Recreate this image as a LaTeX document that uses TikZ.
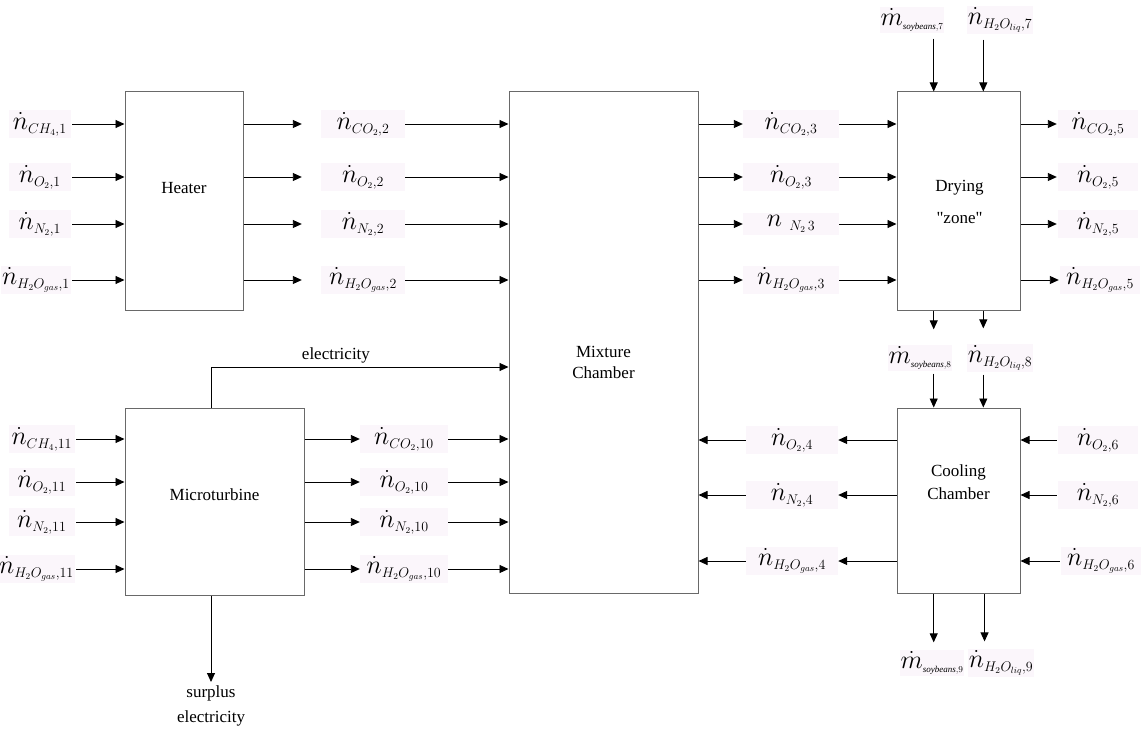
\RequirePackage{fix-cm}
\documentclass[tikz,border=0pt]{standalone}
\usepackage{fontspec}
\setmainfont{Liberation Serif}[Ligatures=TeXOff]
\usetikzlibrary{arrows.meta,calc}
\DeclareMathSizes{26}{26}{14}{9}

\definecolor{tagbg}{RGB}{251,246,251}
\definecolor{boxline}{RGB}{105,105,105}

\tikzset{
  unit/.style={draw=boxline, line width=1pt, fill=white, inner sep=0pt},
  flow/.style={draw=black, line width=0.9pt, -{Triangle[length=9pt,width=8pt]}},
  tag/.style={fill=tagbg, inner xsep=1pt, inner ysep=2pt, font=\fontsize{26}{30}\selectfont},
  plain/.style={font=\fontsize{17}{21}\selectfont, align=center},
}

\begin{document}
\begin{tikzpicture}[x=1pt, y=-1pt]
\useasboundingbox (0,0) rectangle (1145,738);

% process units
\node[unit, minimum width=118pt, minimum height=218pt] (heater)  at (184,201) {};
\node[unit, minimum width=189pt, minimum height=501pt] (mixer)   at (603.5,342.5) {};
\node[unit, minimum width=123pt, minimum height=218pt] (drying)  at (958.5,201) {};
\node[unit, minimum width=123pt, minimum height=185pt] (cooling) at (958.5,500.5) {};
\node[unit, minimum width=179pt, minimum height=187pt] (micro)   at (214.5,501.5) {};

\node[plain] (heatertxt) at (184,188) {Heater};
\node[plain, font=\fontsize{17}{21}\selectfont] (mixertxt) at (603.5,362) {Mixture\\Chamber};
\node[plain, font=\fontsize{17}{32}\selectfont] (dryingtxt) at (959.5,202) {Drying\\"zone"};
\node[plain, font=\fontsize{17}{23}\selectfont] (coolingtxt) at (958.5,482) {Cooling\\Chamber};
\node[plain] (microtxt) at (214.5,495) {Microturbine};

% heater feed
\node[tag, anchor=east, minimum width=62pt] (f1a) at (71,124) {$\dot n_{CH_4,1}$};
\node[tag, anchor=east, minimum width=62pt] (f1b) at (71,177) {$\dot n_{O_2,1}$};
\node[tag, anchor=east, minimum width=62pt] (f1c) at (71,224) {$\dot n_{N_2,1}$};
\node[tag, anchor=east, minimum width=62pt] (f1d) at (71,280) {$\dot n_{H_2O_{gas},1}$};
\foreach \t in {f1a,f1b,f1c,f1d}
  \draw[flow] ([xshift=1pt]\t.east) -- (\t.east -| heater.west);

% heater exhaust into the mixture chamber
\node[tag, minimum width=84pt] (f2a) at (363,124) {$\dot n_{CO_2,2}$};
\node[tag, minimum width=84pt] (f2b) at (363,177) {$\dot n_{O_2,2}$};
\node[tag, minimum width=84pt] (f2c) at (363,224) {$\dot n_{N_2,2}$};
\node[tag, minimum width=84pt] (f2d) at (363,280) {$\dot n_{H_2O_{gas},2}$};
\foreach \t in {f2a,f2b,f2c,f2d}{
  \draw[flow] (heater.east |- \t) -- ([xshift=-19pt]\t.west);
  \draw[flow] (\t.east) -- (\t.east -| mixer.west);
}

% mixture chamber to drying zone
\node[tag, minimum width=96pt] (f3a) at (791,124) {$\dot n_{CO_2,3}$};
\node[tag, minimum width=96pt] (f3b) at (791,177) {$\dot n_{O_2,3}$};
\node[tag, minimum width=96pt] (f3c) at (791,224) {$n\;{}_{N_2\,3}$};
\node[tag, minimum width=96pt] (f3d) at (791,280) {$\dot n_{H_2O_{gas},3}$};
\foreach \t in {f3a,f3b,f3c,f3d}{
  \draw[flow] (mixer.east |- \t) -- (\t.west);
  \draw[flow] (\t.east) -- (\t.east -| drying.west);
}

% drying zone exhaust
\node[tag, minimum width=80pt] (f5a) at (1098,124) {$\dot n_{CO_2,5}$};
\node[tag, minimum width=80pt] (f5b) at (1098,177) {$\dot n_{O_2,5}$};
\node[tag, minimum width=80pt] (f5c) at (1098,224) {$\dot n_{N_2,5}$};
\node[tag, minimum width=80pt] (f5d) at (1100,280) {$\dot n_{H_2O_{gas},5}$};
\foreach \t in {f5a,f5b,f5c,f5d}
  \draw[flow] (drying.east |- \t) -- ([xshift=-1pt]\t.west);

% soybean and water streams
\coordinate (dtopA) at ($(drying.north west)!0.3!(drying.north east)$);
\coordinate (dtopB) at ($(drying.north west)!0.7!(drying.north east)$);
\coordinate (dbotA) at ($(drying.south west)!0.3!(drying.south east)$);
\coordinate (dbotB) at ($(drying.south west)!0.7!(drying.south east)$);
\coordinate (ctopA) at ($(cooling.north west)!0.3!(cooling.north east)$);
\coordinate (ctopB) at ($(cooling.north west)!0.7!(cooling.north east)$);
\coordinate (cbotA) at ($(cooling.south west)!0.3!(cooling.south east)$);
\coordinate (cbotB) at ($(cooling.south west)!0.71!(cooling.south east)$);

\node[tag] (s7) at (912,20)  {$\dot m_{\scriptscriptstyle\mathit{soybeans},7}$};
\node[tag] (w7) at (1000,20) {$\dot n_{H_2O_{liq},7}$};
\draw[flow, shorten <=5pt] (s7.south -| dtopA) -- (dtopA);
\draw[flow, shorten <=5pt] (w7.south -| dtopB) -- (dtopB);

\node[tag] (s8) at (920,358)  {$\dot m_{\scriptscriptstyle\mathit{soybeans},8}$};
\node[tag] (w8) at (1000,358) {$\dot n_{H_2O_{liq},8}$};
\draw[flow, shorten >=15pt] (dbotA) -- (s8.north -| dbotA);
\draw[flow, shorten >=15pt] (dbotB) -- (w8.north -| dbotB);
\draw[flow, shorten <=2pt] (s8.south -| ctopA) -- (ctopA);
\draw[flow, shorten <=2pt] (w8.south -| ctopB) -- (ctopB);

\node[tag] (s9) at (932,663)  {$\dot m_{\scriptscriptstyle\mathit{soybeans},9}$};
\node[tag] (w9) at (1001,663) {$\dot n_{H_2O_{liq},9}$};
\draw[flow, shorten >=7pt] (cbotA) -- (s9.north -| cbotA);
\draw[flow, shorten >=7pt] (cbotB) -- (w9.north -| cbotB);

% cooling chamber air
\node[tag, minimum width=92pt] (f4a) at (792,440) {$\dot n_{O_2,4}$};
\node[tag, minimum width=92pt] (f4b) at (792,495) {$\dot n_{N_2,4}$};
\node[tag, minimum width=92pt] (f4c) at (792,561) {$\dot n_{H_2O_{gas},4}$};
\foreach \t in {f4a,f4b,f4c}{
  \draw[flow] (cooling.west |- \t) -- (\t.east);
  \draw[flow] (\t.west) -- (\t.west -| mixer.east);
}
\node[tag, minimum width=80pt] (f6a) at (1098,440) {$\dot n_{O_2,6}$};
\node[tag, minimum width=80pt] (f6b) at (1098,495) {$\dot n_{N_2,6}$};
\node[tag, minimum width=80pt] (f6c) at (1101,561) {$\dot n_{H_2O_{gas},6}$};
\foreach \t in {f6a,f6b,f6c}
  \draw[flow] ([xshift=-1pt]\t.west) -- (\t.west -| cooling.east);

% microturbine
\node[tag, anchor=east, minimum width=66pt] (f11a) at (75,439) {$\dot n_{CH_4,11}$};
\node[tag, anchor=east, minimum width=66pt] (f11b) at (75,482) {$\dot n_{O_2,11}$};
\node[tag, anchor=east, minimum width=66pt] (f11c) at (75,522) {$\dot n_{N_2,11}$};
\node[tag, anchor=east, minimum width=66pt] (f11d) at (75,569) {$\dot n_{H_2O_{gas},11}$};
\foreach \t in {f11a,f11b,f11c,f11d}
  \draw[flow] ([xshift=1pt]\t.east) -- (\t.east -| micro.west);

\node[tag, minimum width=88pt] (f10a) at (404,439) {$\dot n_{CO_2,10}$};
\node[tag, minimum width=88pt] (f10b) at (404,482) {$\dot n_{O_2,10}$};
\node[tag, minimum width=88pt] (f10c) at (404,522) {$\dot n_{N_2,10}$};
\node[tag, minimum width=88pt] (f10d) at (404,569) {$\dot n_{H_2O_{gas},10}$};
\foreach \t in {f10a,f10b,f10c,f10d}{
  \draw[flow] (micro.east |- \t) -- (\t.west);
  \draw[flow] (\t.east) -- (\t.east -| mixer.west);
}

% electricity
\coordinate (elbow) at (211,367);
\draw[flow] (micro.north -| elbow) -- (elbow)
  -- node[plain, pos=0.42, above, inner sep=0pt, yshift=3pt] (electxt) {electricity}
  (elbow -| mixer.west);
\node[plain, anchor=north, font=\fontsize{17}{25}\selectfont] (surplus) at (211,682) {surplus\\electricity};
\draw[flow] (micro.south -| elbow) -- (surplus.north);

\end{tikzpicture}
\end{document}
